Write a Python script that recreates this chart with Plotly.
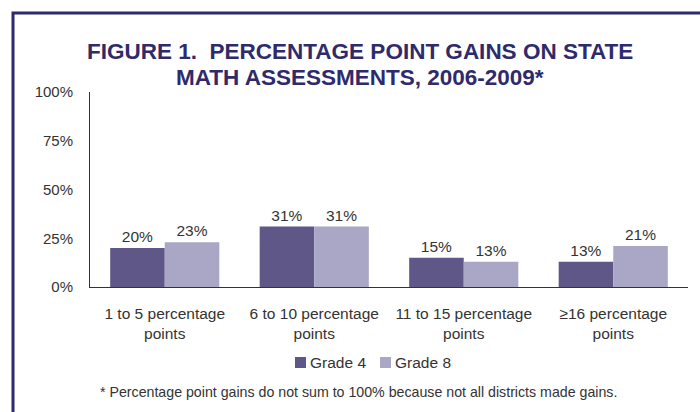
import plotly.graph_objects as go

# Gain bands (x categories) and share of districts per grade
categories = [
    "1 to 5 percentage<br>points",
    "6 to 10 percentage<br>points",
    "11 to 15 percentage<br>points",
    "≥16 percentage<br>points",
]
series_names = ["Grade 4", "Grade 8"]
grade4 = [0.20, 0.31, 0.15, 0.13]
grade8 = [0.23, 0.31, 0.13, 0.21]
y_ticks = [0, 0.25, 0.5, 0.75, 1.0]
y_tick_text = ["0%", "25%", "50%", "75%", "100%"]

NAVY = "#2f2b6b"
C4 = "#5e5787"
C8 = "#aaa6c6"
TXT = "#333333"
FONT = "Liberation Sans, Arial, sans-serif"

W, H = 700, 412
ML, MR, MT, MB = 90, 12, 92, 125
PW, PH = W - ML - MR, H - MT - MB


def px_x(px):
    return (px - ML) / PW


def px_y(py):
    return (H - MB - py) / PH


fig = go.Figure()
for name, vals, col in zip(series_names, [grade4, grade8], [C4, C8]):
    fig.add_trace(go.Bar(
        x=categories, y=vals, name=name, marker_color=col, marker_line_width=0,
        texttemplate="%{y:.0%}", textposition="outside",
        textfont=dict(family=FONT, size=15.5, color=TXT), cliponaxis=False,
        showlegend=False,
    ))

fig.update_layout(
    width=W, height=H,
    margin=dict(l=ML, r=MR, t=MT, b=MB),
    paper_bgcolor="white", plot_bgcolor="white",
    barmode="group", bargap=0.27, bargroupgap=0,
    font=dict(family=FONT, size=15, color=TXT),
    xaxis=dict(showline=True, linecolor="#333333", linewidth=1,
               showgrid=False, ticks="", ticklabelstandoff=12,
               tickfont=dict(family=FONT, size=15.5, color=TXT)),
    yaxis=dict(range=[0, 1], tickvals=y_ticks, ticktext=y_tick_text,
               showline=True, linecolor="#333333", linewidth=1,
               showgrid=False, zeroline=False, ticks="",
               ticklabelstandoff=13,
               tickfont=dict(family=FONT, size=15, color=TXT)),
)

# Figure title, two centred lines
for line, cy in [("FIGURE 1.  PERCENTAGE POINT GAINS ON STATE", 51),
                 ("MATH ASSESSMENTS, 2006-2009*", 77)]:
    fig.add_annotation(
        text="<b>" + line + "</b>",
        xref="paper", yref="paper", x=px_x(360), y=px_y(cy),
        xanchor="center", yanchor="middle", showarrow=False,
        font=dict(family=FONT, size=22.5, color=NAVY),
    )

# Legend: swatch + label per series
for name, col, sx in zip(series_names, [C4, C8], [295, 380]):
    fig.add_shape(type="rect", xref="paper", yref="paper",
                  x0=px_x(sx), x1=px_x(sx + 11), y0=px_y(368), y1=px_y(357),
                  line=dict(width=0), fillcolor=col)
    fig.add_annotation(
        text=name, xref="paper", yref="paper", x=px_x(sx + 13), y=px_y(362.5),
        xanchor="left", yanchor="middle", showarrow=False,
        font=dict(family=FONT, size=15.5, color=TXT),
    )

# Footnote
fig.add_annotation(
    text="* Percentage point gains do not sum to 100% because not all districts made gains.",
    xref="paper", yref="paper", x=px_x(358), y=px_y(392),
    xanchor="center", yanchor="middle", showarrow=False,
    font=dict(family=FONT, size=14.2, color=TXT),
)

# Page frame running off the right and bottom edges
fig.add_shape(type="rect", xref="paper", yref="paper",
              x0=px_x(13), x1=px_x(760), y0=px_y(13), y1=px_y(460),
              line=dict(color=NAVY, width=3), fillcolor="rgba(0,0,0,0)",
              layer="above")

fig.write_html("out.html")
